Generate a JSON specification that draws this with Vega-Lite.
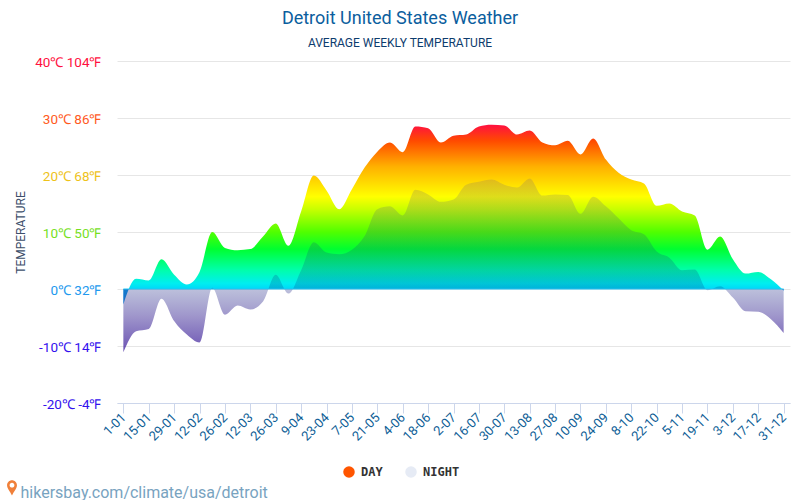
{
  "$schema": "https://vega.github.io/schema/vega-lite/v6.json",
  "autosize": {"type": "none"},
  "padding": {"left": 117, "top": 61, "right": 10, "bottom": 97},
  "width": 673,
  "height": 342,
  "background": "white",
  "view": {"stroke": null},
  "title": {
    "text": "Detroit United States Weather",
    "subtitle": "AVERAGE WEEKLY TEMPERATURE",
    "anchor": "middle",
    "frame": "group",
    "dx": -53.5,
    "offset": 6,
    "font": "Roboto",
    "fontSize": 18,
    "fontWeight": "normal",
    "color": "#0b5e9e",
    "subtitleFont": "Roboto",
    "subtitleFontSize": 12,
    "subtitleColor": "#0d3c6e",
    "subtitlePadding": 10
  },
  "data": {"values": [
    {"week":"1-01","series":"DAY","temp":-2.7},{"week":"8-01","series":"DAY","temp":1.8},{"week":"15-01","series":"DAY","temp":1.5},{"week":"22-01","series":"DAY","temp":5.2},{"week":"29-01","series":"DAY","temp":2.5},{"week":"5-02","series":"DAY","temp":0.8},{"week":"12-02","series":"DAY","temp":3},{"week":"19-02","series":"DAY","temp":10},{"week":"26-02","series":"DAY","temp":7.2},{"week":"5-03","series":"DAY","temp":6.8},{"week":"12-03","series":"DAY","temp":7},{"week":"19-03","series":"DAY","temp":9.2},{"week":"26-03","series":"DAY","temp":11.5},{"week":"2-04","series":"DAY","temp":7.6},{"week":"9-04","series":"DAY","temp":13.6},{"week":"16-04","series":"DAY","temp":19.9},{"week":"23-04","series":"DAY","temp":17.3},{"week":"30-04","series":"DAY","temp":14},{"week":"7-05","series":"DAY","temp":17.5},{"week":"14-05","series":"DAY","temp":21.3},{"week":"21-05","series":"DAY","temp":24.1},{"week":"28-05","series":"DAY","temp":25.7},{"week":"4-06","series":"DAY","temp":24},{"week":"11-06","series":"DAY","temp":28.5},{"week":"18-06","series":"DAY","temp":28.2},{"week":"25-06","series":"DAY","temp":25.7},{"week":"2-07","series":"DAY","temp":26.9},{"week":"9-07","series":"DAY","temp":27.1},{"week":"16-07","series":"DAY","temp":28.5},{"week":"23-07","series":"DAY","temp":28.8},{"week":"30-07","series":"DAY","temp":28.7},{"week":"6-08","series":"DAY","temp":27.1},{"week":"13-08","series":"DAY","temp":27.8},{"week":"20-08","series":"DAY","temp":25.7},{"week":"27-08","series":"DAY","temp":25.2},{"week":"3-09","series":"DAY","temp":26},{"week":"10-09","series":"DAY","temp":23.6},{"week":"17-09","series":"DAY","temp":26.4},{"week":"24-09","series":"DAY","temp":22.7},{"week":"1-10","series":"DAY","temp":20.4},{"week":"8-10","series":"DAY","temp":19.2},{"week":"15-10","series":"DAY","temp":18.5},{"week":"22-10","series":"DAY","temp":14.6},{"week":"29-10","series":"DAY","temp":15},{"week":"5-11","series":"DAY","temp":13.6},{"week":"12-11","series":"DAY","temp":12.9},{"week":"19-11","series":"DAY","temp":6.9},{"week":"26-11","series":"DAY","temp":9.2},{"week":"3-12","series":"DAY","temp":5.2},{"week":"10-12","series":"DAY","temp":2.7},{"week":"17-12","series":"DAY","temp":3},{"week":"24-12","series":"DAY","temp":1.7},{"week":"31-12","series":"DAY","temp":-0.3},
    {"week":"1-01","series":"NIGHT","temp":-11.1},{"week":"8-01","series":"NIGHT","temp":-7.4},{"week":"15-01","series":"NIGHT","temp":-7},{"week":"22-01","series":"NIGHT","temp":-1.7},{"week":"29-01","series":"NIGHT","temp":-5.6},{"week":"5-02","series":"NIGHT","temp":-8},{"week":"12-02","series":"NIGHT","temp":-9.4},{"week":"19-02","series":"NIGHT","temp":0.2},{"week":"26-02","series":"NIGHT","temp":-4.5},{"week":"5-03","series":"NIGHT","temp":-2.9},{"week":"12-03","series":"NIGHT","temp":-3.6},{"week":"19-03","series":"NIGHT","temp":-2.2},{"week":"26-03","series":"NIGHT","temp":2.5},{"week":"2-04","series":"NIGHT","temp":-0.8},{"week":"9-04","series":"NIGHT","temp":3.3},{"week":"16-04","series":"NIGHT","temp":8.2},{"week":"23-04","series":"NIGHT","temp":6.4},{"week":"30-04","series":"NIGHT","temp":6.1},{"week":"7-05","series":"NIGHT","temp":6.9},{"week":"14-05","series":"NIGHT","temp":9.3},{"week":"21-05","series":"NIGHT","temp":14},{"week":"28-05","series":"NIGHT","temp":14.5},{"week":"4-06","series":"NIGHT","temp":12.9},{"week":"11-06","series":"NIGHT","temp":17.4},{"week":"18-06","series":"NIGHT","temp":16.6},{"week":"25-06","series":"NIGHT","temp":15.3},{"week":"2-07","series":"NIGHT","temp":15.7},{"week":"9-07","series":"NIGHT","temp":18.3},{"week":"16-07","series":"NIGHT","temp":18.8},{"week":"23-07","series":"NIGHT","temp":19.2},{"week":"30-07","series":"NIGHT","temp":18.3},{"week":"6-08","series":"NIGHT","temp":17.8},{"week":"13-08","series":"NIGHT","temp":19.4},{"week":"20-08","series":"NIGHT","temp":16.4},{"week":"27-08","series":"NIGHT","temp":16.6},{"week":"3-09","series":"NIGHT","temp":16.5},{"week":"10-09","series":"NIGHT","temp":13.2},{"week":"17-09","series":"NIGHT","temp":16.2},{"week":"24-09","series":"NIGHT","temp":14.5},{"week":"1-10","series":"NIGHT","temp":12.4},{"week":"8-10","series":"NIGHT","temp":10.3},{"week":"15-10","series":"NIGHT","temp":9.6},{"week":"22-10","series":"NIGHT","temp":6.6},{"week":"29-10","series":"NIGHT","temp":5.5},{"week":"5-11","series":"NIGHT","temp":3.3},{"week":"12-11","series":"NIGHT","temp":3.4},{"week":"19-11","series":"NIGHT","temp":-0.2},{"week":"26-11","series":"NIGHT","temp":0.5},{"week":"3-12","series":"NIGHT","temp":-1.5},{"week":"10-12","series":"NIGHT","temp":-3.9},{"week":"17-12","series":"NIGHT","temp":-4},{"week":"24-12","series":"NIGHT","temp":-5.3},{"week":"31-12","series":"NIGHT","temp":-7.7}
  ]},
  "encoding": {
    "x": {
      "field": "week",
      "type": "ordinal",
      "scale": {
        "type": "point",
        "padding": 0.5,
        "domain": ["1-01","8-01","15-01","22-01","29-01","5-02","12-02","19-02","26-02","5-03","12-03","19-03","26-03","2-04","9-04","16-04","23-04","30-04","7-05","14-05","21-05","28-05","4-06","11-06","18-06","25-06","2-07","9-07","16-07","23-07","30-07","6-08","13-08","20-08","27-08","3-09","10-09","17-09","24-09","1-10","8-10","15-10","22-10","29-10","5-11","12-11","19-11","26-11","3-12","10-12","17-12","24-12","31-12"]
      },
      "axis": {
        "values": ["1-01","15-01","29-01","12-02","26-02","12-03","26-03","9-04","23-04","7-05","21-05","4-06","18-06","2-07","16-07","30-07","13-08","27-08","10-09","24-09","8-10","22-10","5-11","19-11","3-12","17-12","31-12"],
        "labelAngle": -45,
        "labelAlign": "right",
        "labelBaseline": "middle",
        "labelFont": "Roboto",
        "labelFontSize": 13,
        "labelColor": "#0e5e96",
        "labelPadding": 2,
        "labelOverlap": false,
        "tickColor": "#ccd6eb",
        "tickSize": 10,
        "domainColor": "#ccd6eb",
        "grid": false,
        "title": "hikersbay.com/climate/usa/detroit",
        "titleFont": "Roboto",
        "titleFontSize": 16,
        "titleFontWeight": "normal",
        "titleColor": "#78a3bf",
        "titleAlign": "left",
        "titleAnchor": "start",
        "titleX": -97,
        "titleY": 81
      }
    },
    "y": {
      "field": "temp",
      "type": "quantitative",
      "scale": {"domain": [-20, 40], "nice": false},
      "axis": {
        "values": [-20, -10, 0, 10, 20, 30, 40],
        "labelExpr": "datum.value + '℃ ' + (datum.value * 1.8 + 32) + '℉'",
        "labelFont": "Roboto",
        "labelFontSize": 13.5,
        "labelPadding": 16,
        "labelOffset": 1,
        "labelColor": {
          "expr": "datum.value == 40 ? '#ff1040' : datum.value == 30 ? '#ff5a1e' : datum.value == 20 ? '#eec21a' : datum.value == 10 ? '#77e01f' : datum.value == 0 ? '#2299ee' : '#3311ee'"
        },
        "ticks": false,
        "domain": false,
        "grid": true,
        "gridColor": "#e6e6e6",
        "title": "TEMPERATURE",
        "titleFont": "Roboto",
        "titleFontSize": 12,
        "titleFontWeight": "normal",
        "titleColor": "#3d4f6b",
        "titleX": -90,
        "titleY": 171
      }
    }
  },
  "layer": [
    {
      "transform": [{"filter": "datum.series == 'DAY'"}],
      "mark": {
        "type": "area",
        "interpolate": "monotone",
        "color": {
          "gradient": "linear",
          "x1": 0, "y1": 0, "x2": 0, "y2": 1,
          "stops": [
            {"offset": 0, "color": "#ff1040"},
            {"offset": 0.089, "color": "#ff4a00"},
            {"offset": 0.232, "color": "#ffb000"},
            {"offset": 0.4, "color": "#ffff00"},
            {"offset": 0.47, "color": "#c8ff00"},
            {"offset": 0.597, "color": "#50ff00"},
            {"offset": 0.692, "color": "#00ff30"},
            {"offset": 0.806, "color": "#00ffa8"},
            {"offset": 0.883, "color": "#00eef0"},
            {"offset": 0.914, "color": "#00d8f8"},
            {"offset": 0.916, "color": "#0098ea"},
            {"offset": 1, "color": "#0090e8"}
          ]
        }
      },
      "encoding": {"y2": {"datum": 0}}
    },
    {
      "transform": [{"filter": "datum.series == 'NIGHT'"}],
      "mark": {
        "type": "area",
        "interpolate": "monotone",
        "color": {
          "gradient": "linear",
          "x1": 0, "y1": 0, "x2": 0, "y2": 1,
          "stops": [
            {"offset": 0, "color": "rgba(70,60,170,0.16)"},
            {"offset": 0.63, "color": "rgba(0,30,110,0.2)"},
            {"offset": 0.636, "color": "rgba(60,70,150,0.34)"},
            {"offset": 0.8, "color": "rgba(60,40,150,0.5)"},
            {"offset": 0.964, "color": "rgba(70,40,160,0.75)"},
            {"offset": 1, "color": "rgba(70,40,160,0.8)"}
          ]
        }
      },
      "encoding": {"y2": {"datum": 0}}
    },
    {
      "transform": [{"filter": "datum.week == '1-01' && datum.series == 'DAY'"}],
      "mark": {"type": "rule", "color": "#22c4f2", "strokeWidth": 1},
      "encoding": {
        "x": {"datum": "1-01"},
        "x2": {"datum": "31-12"},
        "y": {"datum": 0}
      }
    },
    {
      "mark": {"type": "point", "filled": true, "size": 0},
      "encoding": {
        "color": {
          "field": "series",
          "type": "nominal",
          "scale": {"domain": ["DAY", "NIGHT"], "range": ["#ff5500", "#e6ebf5"]},
          "legend": {
            "orient": "none",
            "direction": "horizontal",
            "legendX": 226,
            "legendY": 405,
            "title": null,
            "symbolType": "circle",
            "symbolSize": 133,
            "symbolOpacity": 1,
            "symbolStrokeWidth": 0,
            "labelFont": "DejaVu Sans Mono",
            "labelFontSize": 12,
            "labelFontWeight": "bold",
            "labelColor": "#333333",
            "columnPadding": 22,
            "labelOffset": 6
          }
        }
      }
    },
    {
      "transform": [{"filter": "datum.week == '1-01' && datum.series == 'DAY'"}],
      "mark": {"type": "point", "filled": true, "size": 0, "color": "#f0803a"},
      "encoding": {
        "shape": {
          "datum": "pin",
          "scale": {"domain": ["pin"], "range": ["M0,0.95C-0.2,0.45 -0.62,0.1 -0.62,-0.35A0.62,0.62 0 1 1 0.62,-0.35C0.62,0.1 0.2,0.45 0,0.95ZM0,-0.65A0.3,0.3 0 1 0 0,-0.05A0.3,0.3 0 1 0 0,-0.65Z"]},
          "legend": {
            "orient": "none",
            "legendX": -113,
            "legendY": 419,
            "title": null,
            "labelExpr": "''",
            "symbolSize": 256,
            "symbolStrokeWidth": 0,
            "symbolOpacity": 1
          }
        }
      }
    }
  ]
}
